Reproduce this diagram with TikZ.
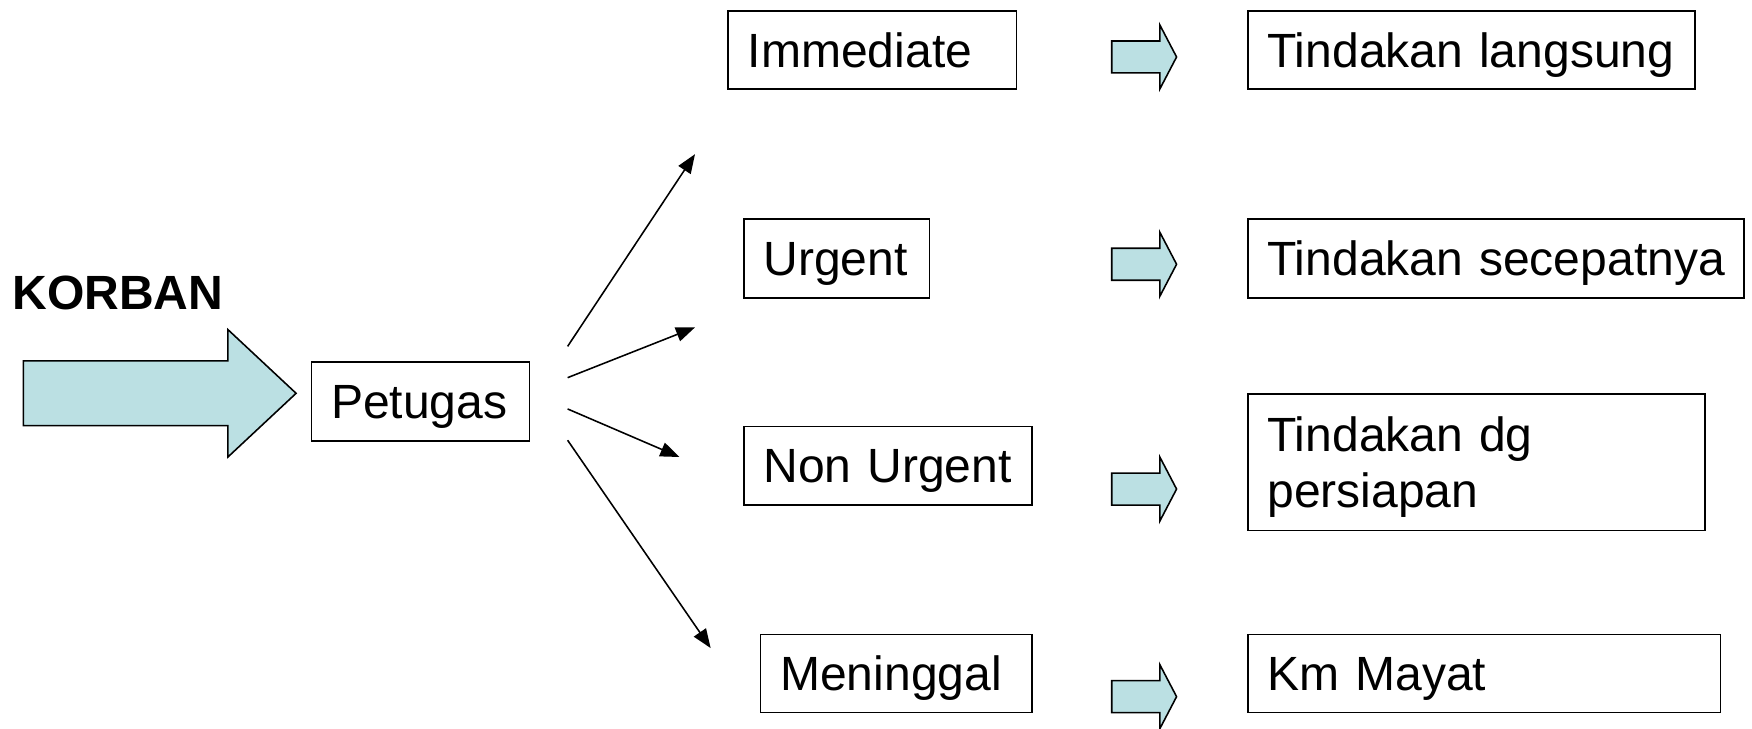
\documentclass[tikz,border=0pt]{standalone}
\usepackage{fontspec}
\setmainfont{Liberation Sans}
\usetikzlibrary{arrows.meta}
\definecolor{arrowfill}{RGB}{187,224,227}
\begin{document}
\begin{tikzpicture}[x=1pt,y=-1pt,
  font=\fontsize{43}{50.7}\selectfont,
  box/.style={draw, line width=1.5pt, rectangle, anchor=north west,
    inner xsep=17.5pt, inner ysep=0pt, align=left,
    text height=30.8pt, text depth=0pt},
  blockarrow/.style={draw, line width=1.4pt, fill=arrowfill, line join=miter},
  fan/.style={line width=1.4pt, -{Triangle[length=17pt,width=13pt]}},
  pics/smallarrow/.style={code={
    \draw[blockarrow] (0,-14.3) -- (43,-14.3) -- (43,-28.7) -- (58,0)
      -- (43,28.7) -- (43,14.3) -- (0,14.3) -- cycle;
  }}
]
\useasboundingbox (0,0) rectangle (1568,652);

% title and the big entry arrow
\node[anchor=base west, inner sep=0pt, font=\fontsize{43}{50.7}\selectfont\bfseries]
  (korban) at (11,277) {KORBAN};
\draw[blockarrow] (21,323) -- (204,323) -- (204,295) -- (265,352)
  -- (204,409) -- (204,381) -- (21,381) -- cycle;

% triage officer
\node[box, minimum width=195pt, minimum height=71pt, text width=160pt]
  (pet) at (278,323) {Petugas};

% categories
\node[box, minimum width=258pt, minimum height=70pt, text width=223pt]
  (imm) at (651,9) {Immediate};
\node[box, minimum width=166pt, minimum height=71pt, text width=131pt]
  (urg) at (665,195) {Urgent};
\node[box, minimum width=258pt, minimum height=70pt, text width=223pt]
  (non) at (665,381) {Non Urgent};
\node[box, minimum width=243pt, minimum height=70pt, text width=208pt]
  (men) at (680,567) {Meninggal};

% actions
\node[box, minimum width=400pt, minimum height=70pt, text width=365pt]
  (act1) at (1116,9) {\mbox{Tindakan langsung}};
\node[box, minimum width=444pt, minimum height=71pt, text width=409pt]
  (act2) at (1116,195) {\mbox{Tindakan secepatnya}};
\node[box, minimum width=409pt, minimum height=122pt, text width=374pt,
  text depth=50.7pt]
  (act3) at (1116,352) {Tindakan dg\\persiapan};
\node[box, minimum width=423pt, minimum height=70pt, text width=388pt]
  (act4) at (1116,567) {Km Mayat};

% fan of arrows from the officer
\coordinate (s1) at (508,310); \coordinate (e1) at (622,138);
\coordinate (s2) at (508,338); \coordinate (e2) at (622,293);
\coordinate (s3) at (508,366); \coordinate (e3) at (608,409);
\coordinate (s4) at (508,394); \coordinate (e4) at (636,580);
\draw[fan] (s1) -- (e1);
\draw[fan] (s2) -- (e2);
\draw[fan] (s3) -- (e3);
\draw[fan] (s4) -- (e4);

% small block arrows between categories and actions
\pic at (995,51) {smallarrow};
\pic at (995,236.5) {smallarrow};
\pic at (995,437.7) {smallarrow};
\pic at (995,623.5) {smallarrow};
\end{tikzpicture}
\end{document}
